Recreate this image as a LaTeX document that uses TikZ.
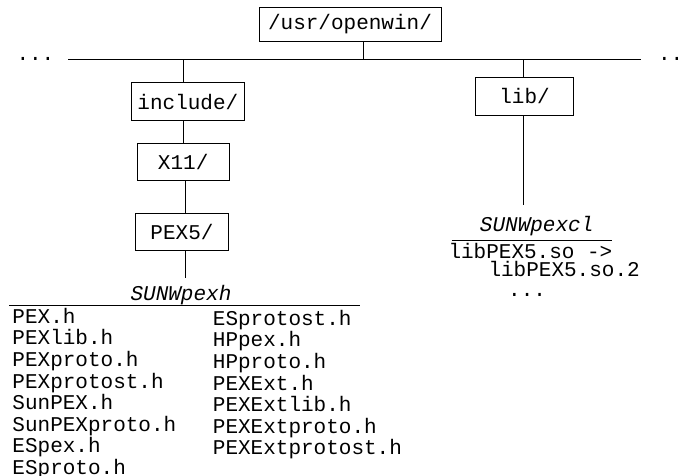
\documentclass[tikz,border=0pt]{standalone}
\usepackage{fontspec}
\setmonofont{Liberation Mono}
\begin{document}
\begin{tikzpicture}[x=1pt,y=-1pt,
  every node/.style={font=\ttfamily\fontsize{21}{21.6}\selectfont, inner sep=0pt},
  dirbox/.style={draw, line width=1pt},
  conn/.style={line width=1pt},
  item/.style={anchor=base west},
  pkg/.style={anchor=base, font=\ttfamily\itshape\fontsize{21}{21.6}\selectfont}]
\useasboundingbox (0,0) rectangle (686,476);
% boxes
\node[dirbox, minimum width=182pt, minimum height=34.4pt] (top) at (350,24.5) {/usr/openwin/};
\node[dirbox, minimum width=112.3pt, minimum height=38pt] (inc) at (187.9,101.7) {include/};
\node[dirbox, minimum width=91.7pt, minimum height=36.7pt] (x11) at (183.2,161.7) {X11/};
\node[dirbox, minimum width=93.3pt, minimum height=37.3pt] (pex) at (182,232) {PEX5/};
\node[dirbox, minimum width=97.6pt, minimum height=37.7pt] (lib) at (524.5,96.2) {lib/};
% bus
\coordinate (hl) at (68.3,60);
\coordinate (hr) at (641,60);
\coordinate (tap) at (363,60);
\coordinate (ja) at (183.3,60);
\coordinate (la) at (523,60);
\coordinate (pexend) at (185,278);
\coordinate (libend) at (523,205);
\draw[conn] (hl) -- (hr);
\draw[conn] (top.south -| tap) -- (tap);
\draw[conn] (ja) -- (ja |- inc.north);
\draw[conn] (inc.south -| ja) -- (x11.north -| ja);
\draw[conn] (x11.south -| pexend) -- (pex.north -| pexend);
\draw[conn] (pex.south -| pexend) -- (pexend);
\draw[conn] (la) -- (la |- lib.north);
\draw[conn] (lib.south -| libend) -- (libend);
% dots
\node[anchor=base west] (dl) at (16.3,61) {...};
\node[anchor=base west] (dr) at (657.9,61) {...};
% packages
\node[pkg] (sunwpexh) at (181,300.5) {SUNWpexh};
\coordinate (u1a) at (9.3,305);
\coordinate (u1b) at (360,305);
\draw[conn] (u1a) -- (u1b);
\node[pkg] (sunwpexcl) at (536.7,231.7) {SUNWpexcl};
\coordinate (u2a) at (451.7,240);
\coordinate (u2b) at (611.7,240);
\draw[conn] (u2a) -- (u2b);
\node[item] (so1) at (448.3,258.3) {libPEX5.so ->};
\node[item] (so2) at (488.3,276.7) {libPEX5.so.2};
\node[item] (sodots) at (508,296.7) {...};
% file lists
\foreach \t [count=\i from 0] in {PEX.h,PEXlib.h,PEXproto.h,PEXprotost.h,SunPEX.h,SunPEXproto.h,ESpex.h,ESproto.h}
  \node[item] (a\i) at (12.3,323.3+21.6*\i) {\t};
\foreach \t [count=\i from 0] in {ESprotost.h,HPpex.h,HPproto.h,PEXExt.h,PEXExtlib.h,PEXExtproto.h,PEXExtprotost.h}
  \node[item] (b\i) at (212.7,325.3+21.6*\i) {\t};
\end{tikzpicture}
\end{document}
